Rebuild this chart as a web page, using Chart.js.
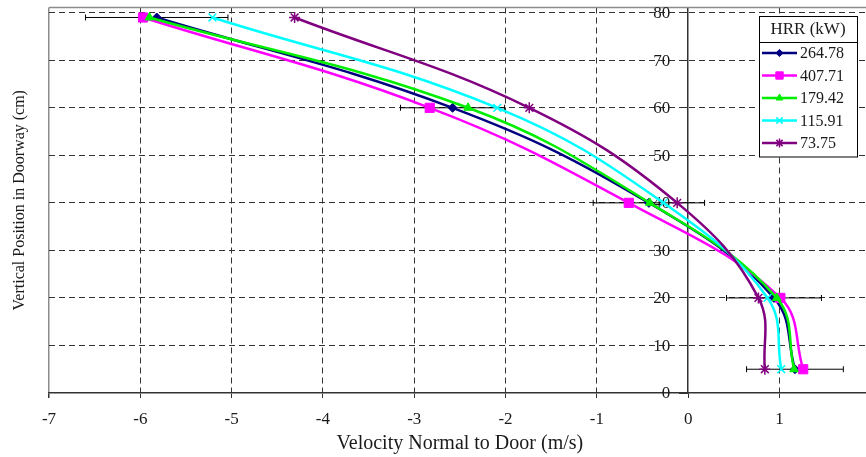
<!DOCTYPE html>
<html>
<head>
<meta charset="utf-8">
<title>Velocity Normal to Door</title>
<script src="https://cdn.jsdelivr.net/npm/chart.js@4.4.1/dist/chart.umd.min.js"></script>
<style>
    html, body { margin: 0; padding: 0; background: #fff; overflow: hidden; }
    #wrap { width: 886px; height: 457px; }
</style>
</head>
<body>
<div id="wrap"><canvas id="velocityChart" width="886" height="457"></canvas></div>
<script>
// vertical positions (cm) where the velocity was sampled
const heights = [79, 60, 40, 20, 5];

// velocity normal to door (m/s), one list per heat release rate
const hrrLabels = ['264.78', '407.71', '179.42', '115.91', '73.75'];
const vel264 = [-5.82, -2.58, -0.43, 0.94, 1.17];
const vel407 = [-5.97, -2.83, -0.65, 1.01, 1.26];
const vel179 = [-5.90, -2.41, -0.42, 0.97, 1.16];
const vel115 = [-5.21, -2.09, -0.27, 0.87, 1.02];
const vel73 = [-4.31, -1.74, -0.12, 0.77, 0.84];

// +/- error on the 264.78 kW series
const errHalf = [0.78, 0.57, 0.61, 0.52, 0.53];

const xTicks = [-7, -6, -5, -4, -3, -2, -1, 0, 1, 2];
const yTicks = [0, 10, 20, 30, 40, 50, 60, 70, 80];

const seriesValues = [vel264, vel407, vel179, vel115, vel73];
const seriesColors = ['#000080', '#ff00ff', '#00ee00', '#00ffff', '#800080'];
const seriesMarkers = ['rectRot', 'rect', 'triangle', 'crossRot', 'star'];
const seriesRadius = [4.5, 6.5, 5, 5.5, 5.5];

const serif = 'Liberation Serif, "Times New Roman", serif';
const inkColor = '#1a1a1a';
const gridColor = '#333333';

const datasets = seriesValues.map((vals, i) => ({
    label: hrrLabels[i],
    data: heights.map((h, j) => ({ x: vals[j], y: h })),
    showLine: true,
    tension: 0.4,
    borderColor: seriesColors[i],
    backgroundColor: seriesColors[i],
    borderWidth: 2.5,
    pointStyle: seriesMarkers[i],
    pointRadius: seriesRadius[i],
    pointBorderWidth: seriesMarkers[i] === 'crossRot' || seriesMarkers[i] === 'star' ? 1.5 : 1,
    pointBackgroundColor: seriesColors[i],
    pointBorderColor: seriesColors[i],
    order: seriesValues.length - i,
}));

const frameAndErrors = {
    id: 'frameAndErrors',
    beforeDatasetsDraw(chart) {
        const { ctx, chartArea, scales } = chart;
        ctx.save();
        // top edge of the plot area
        ctx.strokeStyle = '#8c8c8c';
        ctx.lineWidth = 1.5;
        ctx.beginPath();
        ctx.moveTo(chartArea.left, chartArea.top);
        ctx.lineTo(chartArea.right, chartArea.top);
        ctx.stroke();

        // y tick labels sit left of the axis that crosses at x = 0
        const axisX = scales.x.getPixelForValue(0);
        ctx.fillStyle = inkColor;
        ctx.font = '17px ' + serif;
        ctx.textAlign = 'right';
        ctx.textBaseline = 'middle';
        yTicks.forEach((v) => {
            ctx.fillText(String(v), axisX - 18, scales.y.getPixelForValue(v) + 1);
        });

        // error bars
        ctx.strokeStyle = '#000';
        ctx.lineWidth = 1;
        heights.forEach((h, i) => {
            const y = scales.y.getPixelForValue(h);
            const x1 = scales.x.getPixelForValue(vel264[i] - errHalf[i]);
            const x2 = scales.x.getPixelForValue(vel264[i] + errHalf[i]);
            ctx.beginPath();
            ctx.moveTo(x1, y);
            ctx.lineTo(x2, y);
            ctx.moveTo(x1, y - 3);
            ctx.lineTo(x1, y + 3);
            ctx.moveTo(x2, y - 3);
            ctx.lineTo(x2, y + 3);
            ctx.stroke();
        });
        ctx.restore();
    },
};

const boxLegend = {
    id: 'boxLegend',
    afterDraw(chart) {
        const { ctx } = chart;
        const left = 759, top = 16, width = 98, titleH = 26, rowH = 22.5;
        const height = titleH + rowH * chart.data.datasets.length + 2;
        ctx.save();
        ctx.fillStyle = '#fff';
        ctx.fillRect(left, top, width, height);
        ctx.strokeStyle = '#000';
        ctx.lineWidth = 1;
        ctx.strokeRect(left + 0.5, top + 0.5, width, height);
        ctx.beginPath();
        ctx.moveTo(left, top + titleH + 0.5);
        ctx.lineTo(left + width, top + titleH + 0.5);
        ctx.stroke();

        ctx.fillStyle = inkColor;
        ctx.font = '17px ' + serif;
        ctx.textAlign = 'center';
        ctx.textBaseline = 'middle';
        ctx.fillText('HRR (kW)', left + width / 2, top + titleH / 2 + 1);

        ctx.font = '16px ' + serif;
        ctx.textAlign = 'left';
        chart.data.datasets.forEach((ds, i) => {
            const y = top + titleH + 11 + i * rowH;
            ctx.strokeStyle = ds.borderColor;
            ctx.lineWidth = 2.5;
            ctx.beginPath();
            ctx.moveTo(left + 3, y);
            ctx.lineTo(left + 38, y);
            ctx.stroke();
            ctx.fillStyle = ds.backgroundColor;
            ctx.lineWidth = ds.pointBorderWidth;
            Chart.helpers.drawPoint(ctx, {
                pointStyle: ds.pointStyle,
                radius: ds.pointRadius * 0.8,
                rotation: 0,
                borderWidth: ds.pointBorderWidth,
            }, left + 20.5, y);
            ctx.fillStyle = inkColor;
            ctx.fillText(ds.label, left + 41, y + 1);
        });
        ctx.restore();
    },
};

new Chart(document.getElementById('velocityChart'), {
    type: 'scatter',
    data: { datasets },
    options: {
        responsive: false,
        animation: false,
        events: [],
        layout: { padding: { left: 4, top: 7, right: 6, bottom: 0 } },
        plugins: {
            legend: { display: false },
            tooltip: { enabled: false },
        },
        scales: {
            x: {
                type: 'linear',
                position: 'bottom',
                min: -7,
                max: 2,
                afterBuildTicks: (scale) => { scale.ticks = xTicks.map((v) => ({ value: v })); },
                afterFit: (scale) => { scale.height = 64; },
                ticks: { font: { family: serif, size: 17 }, color: inkColor, padding: 11 },
                grid: {
                    color: (c) => (c.tick && c.tick.value === -7 ? '#8c8c8c' : (c.tick && c.tick.value === 0 ? 'rgba(0,0,0,0)' : gridColor)),
                    lineWidth: (c) => (c.tick && c.tick.value === -7 ? 1.5 : 1),
                    tickLength: 5,
                    tickColor: gridColor,
                },
                border: {
                    color: gridColor,
                    width: 1.5,
                    dash: (c) => (c.tick && c.tick.value === -7 ? [] : [6, 4]),
                },
                title: {
                    display: true,
                    text: 'Velocity Normal to Door (m/s)',
                    font: { family: serif, size: 20 },
                    color: inkColor,
                    padding: { top: 2, bottom: 1 },
                },
            },
            y: {
                type: 'linear',
                position: { x: 0 },
                min: 0,
                max: 81.1,
                afterBuildTicks: (scale) => { scale.ticks = yTicks.map((v) => ({ value: v })); },
                afterFit: (scale) => { scale.paddingTop = 0; scale.paddingBottom = 0; },
                ticks: { display: false },
                grid: {
                    color: (c) => (c.tick && c.tick.value === 0 ? 'rgba(0,0,0,0)' : gridColor),
                    lineWidth: 1,
                    tickLength: 8,
                    tickColor: gridColor,
                },
                border: { color: gridColor, width: 1.5, dash: [6, 4] },
            },
            yTitle: {
                type: 'linear',
                position: 'left',
                min: 0,
                max: 1,
                afterFit: (scale) => { scale.width = 45; },
                grid: { display: false },
                border: { display: false },
                ticks: { display: false },
                title: {
                    display: true,
                    text: 'Vertical Position in Doorway (cm)',
                    font: { family: serif, size: 16 },
                    color: inkColor,
                    padding: { top: 6, bottom: 4 },
                },
            },
        },
    },
    plugins: [frameAndErrors, boxLegend],
});
</script>
</body>
</html>
